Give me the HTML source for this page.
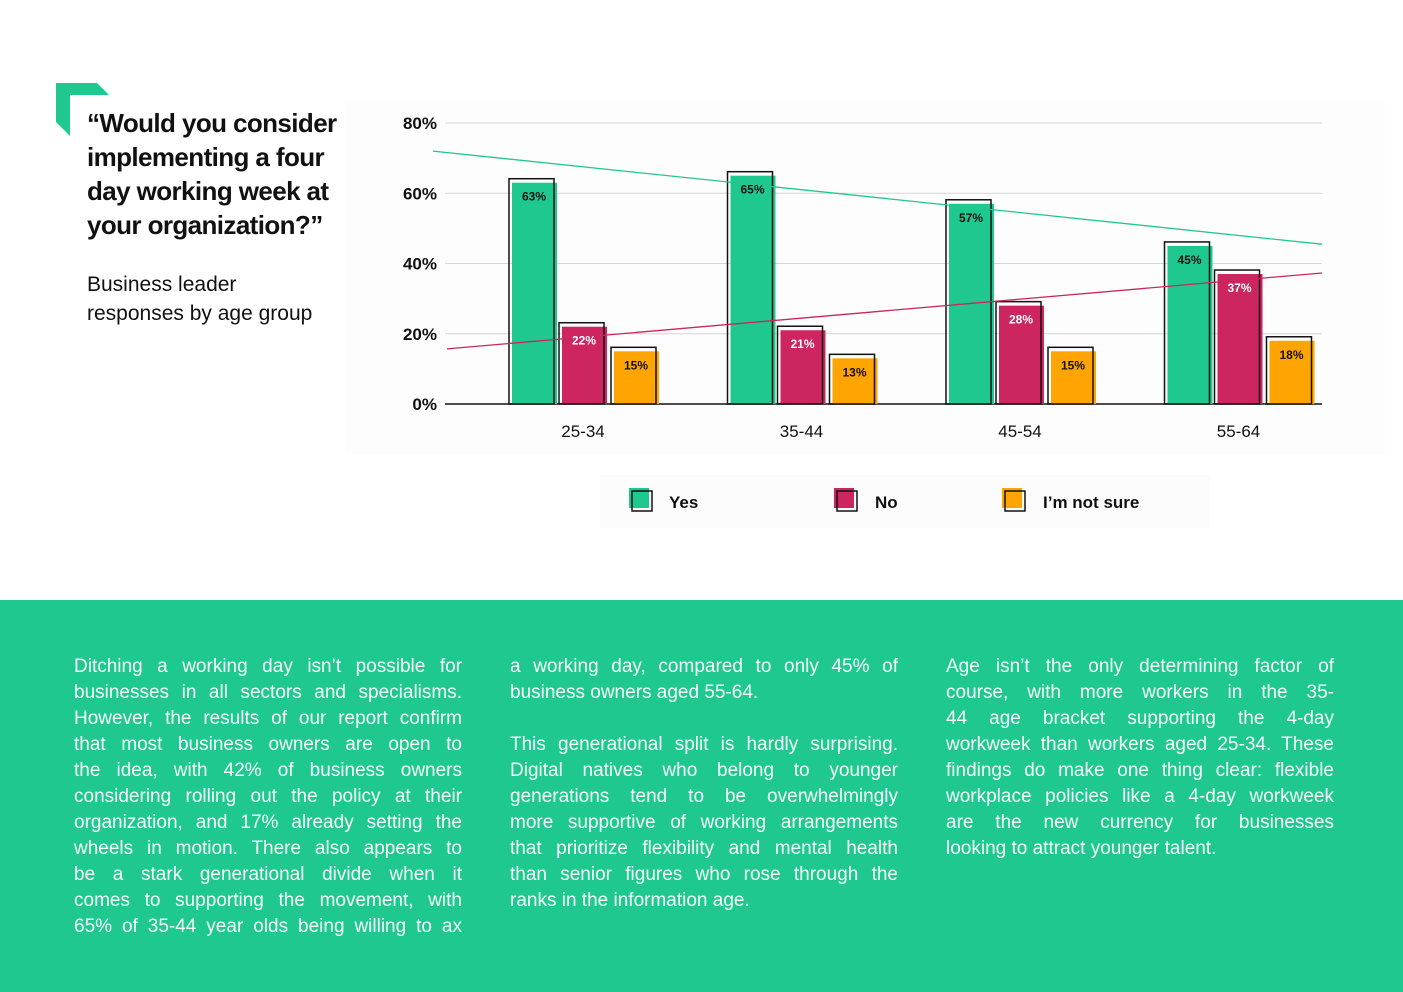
<!DOCTYPE html>
<html><head><meta charset="utf-8">
<style>
html,body{margin:0;padding:0;width:1403px;height:992px;background:#fff;overflow:hidden;font-family:"Liberation Sans",sans-serif}
#bottom{position:absolute;left:0;top:600px;width:1403px;height:392px;background:#1ec88f}
.col{position:absolute;top:654px;width:388px;color:#f4fff9;font-size:19px;line-height:26px}
.col div{white-space:nowrap;text-align:justify;text-align-last:justify;height:26px}
.col div.l{text-align-last:left}
#title{position:absolute;left:87px;top:106px;font-size:26px;font-weight:bold;line-height:34px;color:#111;letter-spacing:-0.6px}
#sub{position:absolute;left:87px;top:270px;font-size:21px;line-height:29px;color:#111}
</style></head><body>
<svg width="1403" height="600" style="position:absolute;left:0;top:0">
<rect x="345" y="100" width="1040" height="355" fill="#fdfdfd"/>
<rect x="600" y="475" width="610" height="53" fill="#fcfcfc"/>
<polygon points="56,83 97,83 109,95 70,95 70,136 56,122" fill="#1ec88f"/>
<g id="grid"></g><g id="bars"></g><g id="trend"></g><g id="labels"></g>
<g>
<rect x="629" y="488" width="20" height="20" fill="#1ec88f"/><rect x="632" y="491" width="20" height="20" fill="none" stroke="#111" stroke-width="1.5"/>
<text x="669" y="508" font-size="17" font-weight="bold" fill="#111">Yes</text>
<rect x="834" y="488" width="20" height="20" fill="#cc2560"/><rect x="837" y="491" width="20" height="20" fill="none" stroke="#111" stroke-width="1.5"/>
<text x="875" y="508" font-size="17" font-weight="bold" fill="#111">No</text>
<rect x="1002" y="488" width="20" height="20" fill="#ffa400"/><rect x="1005" y="491" width="20" height="20" fill="none" stroke="#111" stroke-width="1.5"/>
<text x="1043" y="508" font-size="17" font-weight="bold" fill="#111">I’m not sure</text>
</g>
</svg>
<div id="title">“Would you consider<br>implementing a four<br>day working week at<br>your organization?”</div>
<div id="sub">Business leader<br>responses by age group</div>
<div id="bottom"></div>
<div class="col" style="left:74px">
<div>Ditching a working day isn’t possible for</div>
<div>businesses in all sectors and specialisms.</div>
<div>However, the results of our report confirm</div>
<div>that most business owners are open to</div>
<div>the idea, with 42% of business owners</div>
<div>considering rolling out the policy at their</div>
<div>organization, and 17% already setting the</div>
<div>wheels in motion. There also appears to</div>
<div>be a stark generational divide when it</div>
<div>comes to supporting the movement, with</div>
<div>65% of 35-44 year olds being willing to ax</div>
</div>
<div class="col" style="left:510px">
<div>a working day, compared to only 45% of</div>
<div class="l">business owners aged 55-64.</div>
<div class="l"></div>
<div>This generational split is hardly surprising.</div>
<div>Digital natives who belong to younger</div>
<div>generations tend to be overwhelmingly</div>
<div>more supportive of working arrangements</div>
<div>that prioritize flexibility and mental health</div>
<div>than senior figures who rose through the</div>
<div class="l">ranks in the information age.</div>
</div>
<div class="col" style="left:946px">
<div>Age isn’t the only determining factor of</div>
<div>course, with more workers in the 35-</div>
<div>44 age bracket supporting the 4-day</div>
<div>workweek than workers aged 25-34. These</div>
<div>findings do make one thing clear: flexible</div>
<div>workplace policies like a 4-day workweek</div>
<div>are the new currency for businesses</div>
<div class="l">looking to attract younger talent.</div>
</div>
<script>
const categories=["25-34","35-44","45-54","55-64"];
const yesVals=[63,65,57,45];
const noVals=[22,21,28,37];
const unsureVals=[15,13,15,18];
const yTicks=[0,20,40,60,80];
const yesTrend=[72,45.5];
const noTrend=[15.7,37.3];
const NS="http://www.w3.org/2000/svg";
const y=v=>404-v*281/80;
const cx=i=>583+i*218.5;
function mk(tag,attrs,parent,text){const e=document.createElementNS(NS,tag);for(const k in attrs)e.setAttribute(k,attrs[k]);if(text!==undefined)e.textContent=text;document.getElementById(parent).appendChild(e);return e;}
yTicks.forEach(t=>{
 if(t>0){const l=mk('line',{x1:445,x2:1322,y1:y(t),y2:y(t),stroke:'#d6d6d6','stroke-width':1},'grid');
 
 }
 const tx=mk('text',{x:437,y:y(t)+6,'text-anchor':'end','font-size':17,'font-weight':'bold',fill:'#111'},'labels',t+'%');
 
 
});
const series=[[yesVals,'#1ec88f','#111',-50,'yes'],[noVals,'#cc2560','#fff',0,'no'],[unsureVals,'#ffa400','#111',52,'unsure']];
categories.forEach((c,i)=>{
 series.forEach(([vals,col,tc,off,nm])=>{
  const v=vals[i],x=cx(i)+off-24;
  const r=mk('rect',{x:x+3,y:y(v),width:45,height:404-y(v),fill:col},'bars');
  
  
  const o=mk('rect',{x:x,y:y(v)-4,width:45,height:408-y(v),fill:'none',stroke:'#111','stroke-width':1.5},'bars');
  
  
  const t=mk('text',{x:x+25,y:y(v)+18,'text-anchor':'middle','font-size':12,'font-weight':'bold',fill:tc},'labels',v+'%');
  
  
 });
 const t=mk('text',{x:cx(i),y:437,'text-anchor':'middle','font-size':17,fill:'#111'},'labels',c);
 
 
});
const ax=mk('line',{x1:445,x2:1322,y1:404,y2:404,stroke:'#111','stroke-width':1.5},'grid');


const g=mk('line',{x1:433,x2:1322,y1:y(yesTrend[0]),y2:y(yesTrend[1]),stroke:'#1ec88f','stroke-width':1.3},'trend');


const r=mk('line',{x1:447,x2:1322,y1:y(noTrend[0]),y2:y(noTrend[1]),stroke:'#cc2560','stroke-width':1.3},'trend');


</script>
</body></html>
